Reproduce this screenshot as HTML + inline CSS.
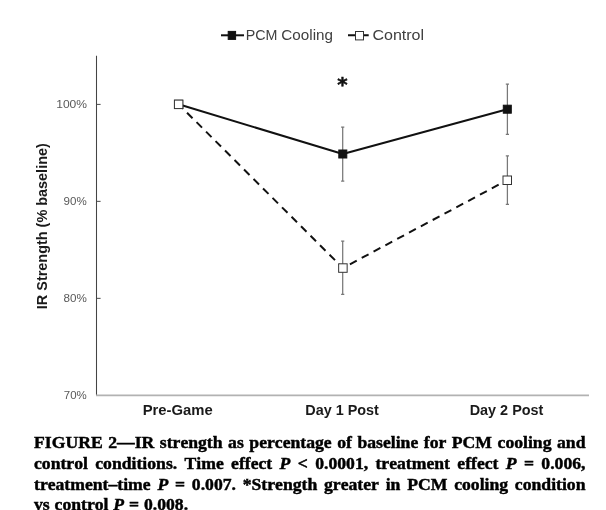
<!DOCTYPE html>
<html>
<head>
<meta charset="utf-8">
<title>Figure 2</title>
<style>
html,body{margin:0;padding:0;background:#fff;}
body{width:606px;height:510px;position:relative;overflow:hidden;}
svg{position:absolute;left:0;top:0;font-kerning:none;}
.cap{position:absolute;left:34.2px;top:432.4px;width:543.35px;transform:scaleX(1.015);transform-origin:0 0;font-family:"Liberation Serif",serif;font-weight:bold;font-size:17.4px;line-height:20.67px;color:#000;font-kerning:none;-webkit-text-stroke:0.45px #000;}
.cap div{text-align:justify;text-align-last:justify;white-space:nowrap;}
.cap div.last{text-align:left;text-align-last:left;word-spacing:0.45px;}
</style>
</head>
<body>
<svg width="606" height="510" viewBox="0 0 606 510" font-family="'Liberation Sans',sans-serif">
  <!-- axes -->
  <line x1="96.5" y1="55.8" x2="96.5" y2="395.8" stroke="#444" stroke-width="1.05"/>
  <line x1="96" y1="395.3" x2="589" y2="395.3" stroke="#b2b2b2" stroke-width="1.7"/>
  <g stroke="#4a4a4a" stroke-width="1">
    <line x1="96.5" y1="104.4" x2="100.6" y2="104.4"/>
    <line x1="96.5" y1="201.35" x2="100.6" y2="201.35"/>
    <line x1="96.5" y1="298.35" x2="100.6" y2="298.35"/>
  </g>
  <!-- y tick labels -->
  <text transform="translate(56.18,108.0) scale(1.0398,1)" font-size="11.6" fill="#595959">100%</text>
  <text transform="translate(63.56,205.1) scale(0.9973,1)" font-size="11.6" fill="#595959">90%</text>
  <text transform="translate(63.59,302.2) scale(1.0045,1)" font-size="11.6" fill="#595959">80%</text>
  <text transform="translate(63.81,399.1) scale(0.9906,1)" font-size="11.6" fill="#595959">70%</text>
  <!-- y title -->
  <text transform="translate(46.6,309.17) rotate(-90) scale(0.9697,1)" font-size="14.9" font-weight="bold" fill="#1a1a1a">IR Strength (% baseline)</text>
  <!-- x labels -->
  <text transform="translate(142.71,415.0) scale(1.0304,1)" font-size="14.4" font-weight="bold" fill="#1a1a1a">Pre-Game</text>
  <text transform="translate(305.24,415.0) scale(1.0001,1)" font-size="14.4" font-weight="bold" fill="#1a1a1a">Day 1 Post</text>
  <text transform="translate(469.63,415.0) scale(1.0029,1)" font-size="14.4" font-weight="bold" fill="#1a1a1a">Day 2 Post</text>
  <!-- error bars -->
  <g stroke="#787878" stroke-width="1.25" fill="none">
    <path d="M342.7 127V181M341.1 127h3.2M341.1 181h3.2"/>
    <path d="M342.7 241V294.3M341.1 241h3.2M341.1 294.3h3.2"/>
    <path d="M507.4 84V134.4M505.8 84h3.2M505.8 134.4h3.2"/>
    <path d="M507.4 155.9V204.4M505.8 155.9h3.2M505.8 204.4h3.2"/>
  </g>
  <!-- lines -->
  <polyline points="178.6,104.3 342.8,154 507.3,109.2" fill="none" stroke="#111" stroke-width="2" stroke-linejoin="round"/>
  <polyline points="178.6,104.3 342.9,268 507.3,180.1" fill="none" stroke="#111" stroke-width="2" stroke-dasharray="7.75 5.66" stroke-dashoffset="1.51" stroke-linejoin="round"/>
  <!-- markers -->
  <g fill="#111" stroke="#111" stroke-width="1">
    <rect x="174.6" y="100.3" width="8" height="8"/>
    <rect x="338.8" y="150" width="8" height="8"/>
    <rect x="503.3" y="105.2" width="8" height="8"/>
  </g>
  <g fill="#fff" stroke="#333" stroke-width="1">
    <rect x="174.4" y="100.1" width="8.5" height="8.5"/>
    <rect x="338.65" y="263.8" width="8.5" height="8.5"/>
    <rect x="503.0" y="176.0" width="8.5" height="8.5"/>
  </g>
  <!-- asterisk -->
  <text x="342.5" y="91.4" font-size="19.8" font-weight="bold" fill="#111" stroke="#111" stroke-width="0.5" text-anchor="middle" font-family="'DejaVu Sans',sans-serif">*</text>
  <!-- legend -->
  <line x1="221" y1="35.3" x2="244" y2="35.3" stroke="#111" stroke-width="2"/>
  <rect x="228.2" y="31.4" width="7.4" height="8" fill="#111" stroke="#111"/>
  <text y="40.2" font-size="14.3" fill="#404040" xml:space="preserve"><tspan x="245.63" textLength="35.71" lengthAdjust="spacingAndGlyphs">PCM </tspan><tspan x="281.33" textLength="51.66" lengthAdjust="spacingAndGlyphs">Cooling</tspan></text>
  <line x1="348" y1="35.3" x2="371" y2="35.3" stroke="#111" stroke-width="2" stroke-dasharray="7.5 5.7"/>
  <rect x="355.5" y="31.5" width="8" height="8.4" fill="#fff" stroke="#333"/>
  <text transform="translate(372.38,40.2) scale(1.1235,1)" font-size="14.3" fill="#404040">Control</text>
</svg>
<div class="cap">
<div>FIGURE 2—IR strength as percentage of baseline for PCM cooling and</div>
<div>control conditions. Time effect <i>P</i> &lt; 0.0001, treatment effect <i>P</i> = 0.006,</div>
<div>treatment–time <i>P</i> = 0.007. *Strength greater in PCM cooling condition</div>
<div class="last">vs control <i>P</i> = 0.008.</div>
</div>
</body>
</html>
